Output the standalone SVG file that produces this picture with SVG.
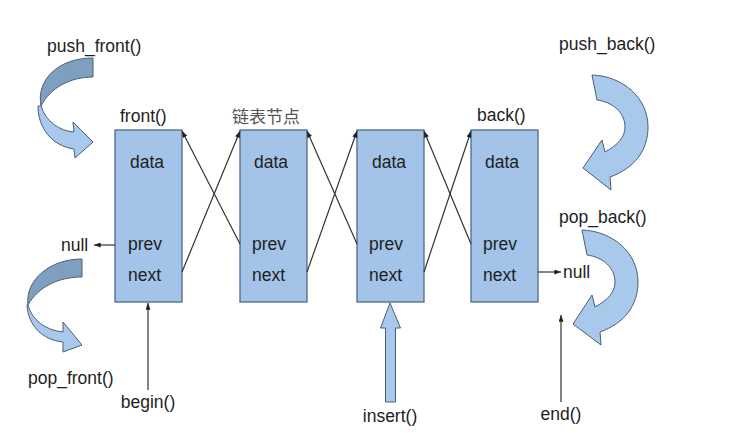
<svg xmlns="http://www.w3.org/2000/svg" width="730" height="439" viewBox="0 0 730 439">
<defs>
<style>
.box{fill:#a3c3e8;stroke:#50698a;stroke-width:1.3}
.t{font-family:"Liberation Sans",Arial,sans-serif;font-size:17.5px;fill:#1e1e1e}
.cn{font-family:"Liberation Sans","Noto Sans CJK SC",sans-serif;font-size:17px;fill:#555}
.c{text-anchor:middle}
.conn{stroke:#333;stroke-width:1.2;fill:none}
.lt{fill:#a9c9ec;stroke:#4b5e75;stroke-width:1}
.dk{fill:#7f9fc1;stroke:#4b5e75;stroke-width:1}
</style>
<marker id="ah" viewBox="0 0 8 6" refX="8" refY="3" markerWidth="7" markerHeight="5" orient="auto" markerUnits="userSpaceOnUse">
<path d="M0,0 L8,3 L0,6 Z" fill="#222"/>
</marker>
</defs>
<rect width="730" height="439" fill="#fff"/>

<g id="node1">
<rect class="box" x="115" y="130" width="67" height="172"/>
<text class="t" x="130" y="168">data</text>
<text class="t" x="128" y="250">prev</text>
<text class="t" x="128" y="281">next</text>
</g>
<g id="node2">
<rect class="box" x="240" y="130" width="67" height="172"/>
<text class="t" x="254" y="168">data</text>
<text class="t" x="252" y="250">prev</text>
<text class="t" x="252" y="281">next</text>
</g>
<g id="node3">
<rect class="box" x="357" y="130" width="67" height="172"/>
<text class="t" x="372" y="168">data</text>
<text class="t" x="369" y="250">prev</text>
<text class="t" x="369" y="281">next</text>
</g>
<g id="node4">
<rect class="box" x="471" y="130" width="67" height="172"/>
<text class="t" x="485" y="168">data</text>
<text class="t" x="483" y="250">prev</text>
<text class="t" x="483" y="281">next</text>
</g>

<g id="labels">
<text class="t" x="120" y="122">front()</text>
<text class="cn" x="232" y="123">链表节点</text>
<text class="t" x="477" y="121">back()</text>
<text class="t" x="47" y="52">push_front()</text>
<text class="t" x="28" y="384">pop_front()</text>
<text class="t" x="559" y="50">push_back()</text>
<text class="t" x="559" y="223">pop_back()</text>
<text class="t" x="61" y="251">null</text>
<text class="t" x="563" y="278">null</text>
<text class="t c" x="148" y="408">begin()</text>
<text class="t c" x="390" y="422">insert()</text>
<text class="t c" x="561" y="420">end()</text>
</g>

<g id="connectors">
<line class="conn" x1="182" y1="272" x2="240" y2="131" marker-end="url(#ah)"/>
<line class="conn" x1="240" y1="244" x2="182" y2="131" marker-end="url(#ah)"/>
<line class="conn" x1="307" y1="272" x2="357" y2="131" marker-end="url(#ah)"/>
<line class="conn" x1="357" y1="244" x2="307" y2="131" marker-end="url(#ah)"/>
<line class="conn" x1="424" y1="272" x2="471" y2="131" marker-end="url(#ah)"/>
<line class="conn" x1="471" y1="244" x2="424" y2="131" marker-end="url(#ah)"/>
<line class="conn" x1="115" y1="245" x2="94" y2="245" marker-end="url(#ah)"/>
<line class="conn" x1="538" y1="272" x2="561" y2="272" marker-end="url(#ah)"/>
<line class="conn" x1="148" y1="390" x2="148" y2="303" marker-end="url(#ah)"/>
<line class="conn" x1="561" y1="402" x2="561" y2="315" marker-end="url(#ah)"/>
<polygon class="lt" points="390,303 400.5,328 395.5,328 395.5,402 385.5,402 385.5,328 380.5,328"/>
</g>

<g id="push_front_arrow">
<path class="dk" d="M93,58 L93,77 C70,77 50,88 41,106 C36,80 58,58 93,58 Z"/>
<path class="lt" d="M38,106 C38,128 52,146 74,149 L75,158 L93,142 L73,122 L74,132 C60,131 46,122 41,106 Z"/>
</g>
<g id="pop_front_arrow">
<path class="dk" d="M82,259 L82,277 C58,277 38,287 28,305 C25,280 50,259 82,259 Z"/>
<path class="lt" d="M27,305 C28,325 42,340 63,342 L63,352 L82,345 L63,322 L63,332 C45,330 32,320 28,305 Z"/>
</g>
<g id="push_back_arrow">
<path class="lt" d="M592,75 C622,76 648,97 648,127 C648,150 635,168 610,177 L611,190 L583,168 L602,140 L605,152 C618,145 625,137 625,127 C625,112 612,102 597,100 Z"/>
</g>
<g id="pop_back_arrow">
<path class="lt" transform="translate(-10,155)" d="M592,75 C622,76 648,97 648,127 C648,150 635,168 610,177 L611,190 L583,169 L602,140 L605,152 C618,145 625,137 625,127 C625,112 612,102 597,100 Z"/>
</g>
</svg>
